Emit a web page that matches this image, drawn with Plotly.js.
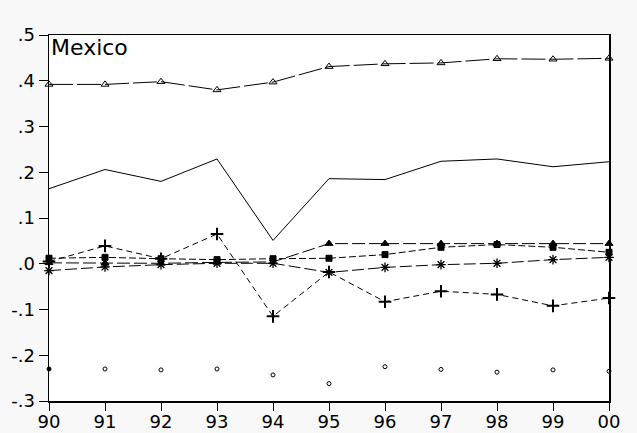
<!DOCTYPE html>
<html>
<head>
<meta charset="utf-8">
<script src="https://cdn.plot.ly/plotly-3.0.1.min.js"></script>
<style>html,body{margin:0;padding:0;background:#f8f8f8;}#chart{width:637px;height:433px;}</style>
</head>
<body>
<div id="chart"></div>
<script>
const years = [1990,1991,1992,1993,1994,1995,1996,1997,1998,1999,2000];
const xTickLabels = ["90","91","92","93","94","95","96","97","98","99","00"];
const yTickVals = [-0.3,-0.2,-0.1,0,0.1,0.2,0.3,0.4,0.5];
const yTickLabels = ["-.3","-.2","-.1",".0",".1",".2",".3",".4",".5"];

const openTriangleSeries = [0.392,0.392,0.398,0.380,0.397,0.431,0.437,0.439,0.448,0.447,0.449];
const solidSeries        = [0.164,0.206,0.180,0.229,0.051,0.186,0.184,0.224,0.229,0.212,0.223];
const plusSeries         = [0.005,0.039,0.011,0.065,-0.115,-0.018,-0.083,-0.060,-0.067,-0.092,-0.075];
const squareSeries       = [0.012,0.014,0.011,0.009,0.011,0.012,0.020,0.036,0.042,0.036,0.025];
const filledTriSeries    = [0.002,0.001,0.001,0.003,0.004,0.044,0.044,0.044,0.044,0.044,0.044];
const starSeries         = [-0.015,-0.007,-0.002,0.001,0.001,-0.019,-0.008,-0.002,0.001,0.009,0.014];
const circleSeries       = [-0.230,-0.230,-0.232,-0.230,-0.243,-0.262,-0.225,-0.231,-0.237,-0.232,-0.235];

const blk = '#000';
function tr(y, mode, sym, size, dash, mlw) {
  return {x: years, y: y, type: 'scatter', mode: mode, cliponaxis: false,
    line: {color: blk, width: 1, dash: dash},
    marker: {symbol: sym, size: size, color: blk, line: {color: blk, width: mlw || 1}}};
}
const data = [
  tr(openTriangleSeries, 'lines+markers', 'triangle-up-open', 7, '24px,4px'),
  tr(solidSeries, 'lines', 'circle', 1, 'solid'),
  tr(plusSeries, 'lines+markers', 'cross-thin-open', 9, '6px,4px', 2),
  tr(squareSeries, 'lines+markers', 'square', 6, '7px,3px'),
  tr(filledTriSeries, 'lines+markers', 'triangle-up', 7, '13px,4px'),
  tr(starSeries, 'lines+markers', 'asterisk-open', 8, '12px,4px', 1.3),
  {x: years, y: circleSeries, type: 'scatter', mode: 'markers', cliponaxis: false,
   marker: {symbol: years.map((v, i) => i === 0 ? 'circle' : 'circle-open'), size: 4, color: blk,
            line: {color: blk, width: 1}}}
];
const layout = {
  width: 637, height: 433,
  margin: {l: 49, r: 28, t: 35, b: 32, pad: 0},
  paper_bgcolor: '#f8f8f8', plot_bgcolor: '#ffffff',
  showlegend: false,
  font: {family: '"DejaVu Sans", sans-serif', color: '#000', size: 18},
  xaxis: {range: [1990, 2000], tickvals: years, ticktext: xTickLabels, showgrid: false, zeroline: false,
    showline: true, mirror: true, linecolor: blk, linewidth: 1.5, ticks: 'outside', ticklen: 8, tickcolor: blk,
    ticklabelstandoff: -4, tickfont: {size: 18}},
  yaxis: {range: [-0.3, 0.5], tickvals: yTickVals, ticktext: yTickLabels, showgrid: false, zeroline: false,
    showline: true, mirror: true, linecolor: blk, linewidth: 1.5, ticks: 'outside', ticklen: 9, tickcolor: blk,
    tickfont: {size: 18}},
  annotations: [{text: 'Mexico', xref: 'paper', yref: 'paper', x: 0, y: 1, xanchor: 'left', yanchor: 'top',
    xshift: 0, yshift: 2, showarrow: false, font: {size: 22, color: blk}}]
};
Plotly.newPlot('chart', data, layout, {displayModeBar: false, staticPlot: true});
</script>
</body>
</html>
